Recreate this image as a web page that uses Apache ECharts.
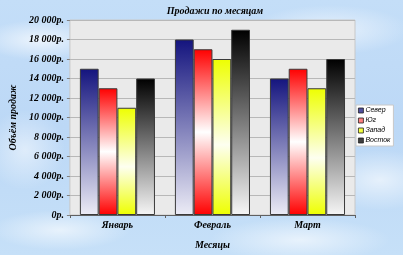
<!DOCTYPE html>
<html><head><meta charset="utf-8">
<script src="https://cdn.jsdelivr.net/npm/echarts@6/dist/echarts.min.js"></script>
<style>
html,body{margin:0;padding:0;}
body{width:403px;height:255px;overflow:hidden;
background:
 radial-gradient(ellipse 60px 20px at 40px 40px, rgba(255,255,255,0.7), rgba(255,255,255,0)),
 radial-gradient(ellipse 80px 25px at 330px 30px, rgba(255,255,255,0.6), rgba(255,255,255,0)),
 radial-gradient(ellipse 70px 20px at 60px 230px, rgba(255,255,255,0.6), rgba(255,255,255,0)),
 radial-gradient(ellipse 90px 22px at 300px 240px, rgba(255,255,255,0.6), rgba(255,255,255,0)),
 radial-gradient(ellipse 60px 30px at 380px 180px, rgba(255,255,255,0.6), rgba(255,255,255,0)),
 radial-gradient(ellipse 40px 40px at 25px 150px, rgba(255,255,255,0.5), rgba(255,255,255,0)),
 linear-gradient(180deg,#c4def8 0%,#bcd8f6 50%,#c6e0f8 100%);}
#c{width:403px;height:255px;}
</style></head><body>
<div id="c"></div>
<script>
const categories = ['Январь', 'Февраль', 'Март'];
const seriesNames = ['Север', 'Юг', 'Запад', 'Восток'];
const sever = [15000, 18000, 14000];
const yug = [13000, 17000, 15000];
const zapad = [11000, 16000, 13000];
const vostok = [14000, 19000, 16000];
const yTicks = [0, 2000, 4000, 6000, 8000, 10000, 12000, 14000, 16000, 18000, 20000];

const lg = (stops) => ({type:'linear', x:0, y:0, x2:0, y2:1, colorStops: stops.map(s=>({offset:s[0], color:s[1]}))});
const fills = [
  lg([[0,'#14147e'],[1,'#ececf6']]),
  lg([[0,'#ff0000'],[0.5,'#ffffff'],[1,'#ff0000']]),
  lg([[0,'#eeff00'],[0.55,'#fdfff0'],[1,'#eeff00']]),
  lg([[0,'#000000'],[1,'#f6f6f6']])
];
const legendColors = ['#5050a0','#ff8080','#f4ff40','#404040'];
const datasets = [sever, yug, zapad, vostok];
const font = {fontFamily:'Liberation Serif', fontWeight:'bold', fontStyle:'italic', color:'#000'};

const chart = echarts.init(document.getElementById('c'), null, {renderer:'canvas'});
chart.setOption({
  animation:false,
  backgroundColor:'transparent',
  title:{text:'Продажи по месяцам', left:210, top:1, textAlign:'center',
    textStyle:Object.assign({fontSize:10}, font)},
  legend:{orient:'vertical', left:356, top:105, itemWidth:5, itemHeight:5, itemGap:3,
    backgroundColor:'#ffffff', borderColor:'#c8c8c8', borderWidth:1, padding:[2,3,2,2],
    icon:'rect',
    textStyle:{fontSize:7, fontFamily:'Liberation Sans', fontStyle:'italic', color:'#000', padding:[0,0,0,-3]},
    data: seriesNames.map((n,i)=>({name:n, itemStyle:{color:legendColors[i], borderColor:'#202020', borderWidth:0.8}}))},
  grid:{left:64, right:48, top:20, bottom:40, show:true, backgroundColor:'#eaeaea', borderColor:'#c8c8c8', borderWidth:1},
  xAxis:{type:'category', data:categories,
    name:'Месяцы', nameLocation:'middle', nameGap:25,
    nameTextStyle:Object.assign({fontSize:10}, font),
    axisLine:{lineStyle:{color:'#606060', width:1}},
    axisTick:{show:true, length:3, lineStyle:{color:'#606060'}},
    axisLabel:Object.assign({fontSize:10, margin:5}, font)},
  yAxis:{type:'value', min:0, max:20000, interval:2000,
    name:'Объём продаж', nameLocation:'middle', nameGap:50, nameRotate:90,
    nameTextStyle:Object.assign({fontSize:10}, font),
    axisLine:{show:false},
    axisTick:{show:true, length:3, lineStyle:{color:'#808080'}},
    splitLine:{lineStyle:{color:'#b8b8b8', width:1}},
    axisLabel:Object.assign({fontSize:10, margin:6,
      formatter:(v)=> yTicks.includes(v) ? (v===0 ? '0р.' : (Math.floor(v/1000)+' '+String(v%1000).padStart(3,'0')+'р.')) : ''}, font)},
  series: seriesNames.map((n,i)=>({
    name:n, type:'bar', data:datasets[i], barGap:'0%', barCategoryGap:'21%',
    itemStyle:{color:fills[i], borderColor:'#3a3a3a', borderWidth:1}
  }))
});
</script>
</body></html>
